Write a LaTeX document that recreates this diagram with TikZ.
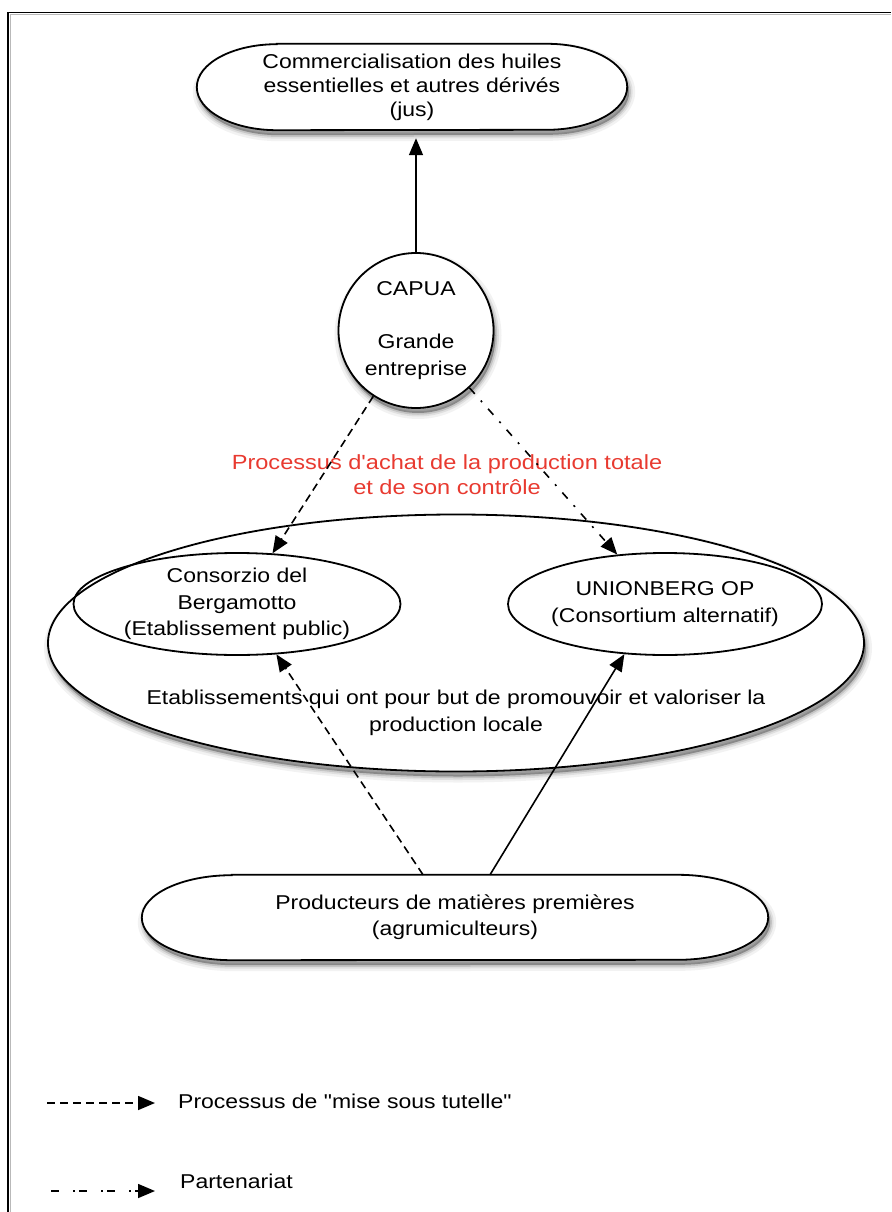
\documentclass[tikz,border=0pt]{standalone}
\usepackage{fontspec}
\setmainfont{Liberation Sans}[FakeStretch=1.15, Ligatures=TeXOff]
\usetikzlibrary{arrows.meta,shapes.geometric,calc}
\pgfdeclarelayer{background}
\pgfsetlayers{background,main}
\definecolor{redtxt}{RGB}{232,58,48}
\begin{document}
\begin{tikzpicture}[x=1pt,y=1pt,
  txt/.style={font=\fontsize{20}{24}\selectfont, align=center, inner sep=0pt},
  ln/.style={line width=1.6pt, draw=black},
  arr/.style={ln, -{Triangle[length=17pt,width=14pt]}},
  dsh/.style={dash pattern=on 8pt off 5pt},
  dshdot/.style={dash pattern=on 8pt off 9pt on 2pt off 9pt},
  legdot/.style={dash pattern=on 8pt off 14pt on 2pt off 4pt},
  shad/.style={
    preaction={draw=black, draw opacity=0.05, line width=12pt, transform canvas={shift={(2pt,-5pt)}}},
    preaction={draw=black, draw opacity=0.08, line width=7pt, transform canvas={shift={(2pt,-5pt)}}},
    preaction={draw=black, draw opacity=0.12, line width=3.5pt, fill=black, fill opacity=0.3, transform canvas={shift={(2pt,-5pt)}}}},
  outline/.style={draw=black, line width=1.8pt},
  pill/.style={outline, fill=white},
  smallell/.style={ellipse, outline, align=center, inner sep=0pt, minimum width=327pt, minimum height=102pt, font=\fontsize{20}{26.5}\selectfont}
]
\useasboundingbox (0,0) rectangle (891,-1212);
% frame
\draw[gray!55, line width=0.9pt] (10.2,-1212) -- (10.2,-14.7) -- (891,-14.7);
\draw[line width=1.6pt] (8,-1212) -- (8,-12.5) -- (891,-12.5);

% big ellipse
\node[ellipse, outline, fill=white, shad, minimum width=816pt, minimum height=257pt, inner sep=0pt] (etab) at (456,-643) {};
\node[txt, font=\fontsize{20}{27}\selectfont] (etabtext) at (456,-713) {Etablissements qui ont pour but de promouvoir et valoriser la\\production locale};

% small ellipses
\node[smallell] (consorzio) at (237,-604) {Consorzio del\\Bergamotto\\(Etablissement public)};
\node[smallell, minimum width=314pt, inner xsep=-4pt] (unionberg) at (665,-604) {UNIONBERG OP\\(Consortium alternatif)};

% top pill
\node[txt, minimum width=430pt, minimum height=86pt] (comm) at (412,-87) {Commercialisation des huiles\\essentielles et autres dérivés\\(jus)};
% producers pill
\node[txt, font=\fontsize{20}{26}\selectfont, minimum width=626pt, minimum height=85pt] (prod) at (455,-917.5) {Producteurs de matières premières\\(agrumiculteurs)};
\begin{pgfonlayer}{background}
\path[pill, shad] ([xshift=80pt]comm.north west) -- ([xshift=-80pt]comm.north east)
  arc[start angle=90, end angle=-90, x radius=80, y radius=43]
  -- ([xshift=80pt]comm.south west)
  arc[start angle=270, end angle=90, x radius=80, y radius=43] -- cycle;
\path[pill, shad] ([xshift=90pt]prod.north west) -- ([xshift=-90pt]prod.north east)
  arc[start angle=90, end angle=-90, x radius=90, y radius=42.5]
  -- ([xshift=90pt]prod.south west)
  arc[start angle=270, end angle=90, x radius=90, y radius=42.5] -- cycle;
\end{pgfonlayer}

% CAPUA
\node[circle, outline, fill=white, shad, minimum size=155pt, inner sep=0pt, align=center, font=\fontsize{20}{26.5}\selectfont] (capua) at (416,-330.5) {CAPUA\\[26.5pt]Grande\\entreprise};

% red label
\node[txt, text=redtxt, font=\fontsize{20.5}{25}\selectfont] (redlbl) at (447,-475) {Processus d'achat de la production totale\\et de son contrôle};

% connectors
\draw[arr, shorten >=8pt] (capua.north) -- (capua.north |- comm.south);
\draw[arr, dsh] (capua.237) -- (consorzio.55);
\draw[arr, dshdot] (capua.-47) -- (unionberg.134);
\draw[arr, dsh] ([xshift=-32pt]prod.north) -- (consorzio.-52);
\draw[arr] ([xshift=35pt]prod.north) -- (unionberg.231);

% legend
\coordinate (l1s) at (47,-1103);
\coordinate (l1e) at (155,-1103);
\draw[arr, dsh] (l1s) -- (l1e);
\node[txt, anchor=base west] (l1t) at (178,-1108) {Processus de "mise sous tutelle"};
\coordinate (l2s) at (51,-1191);
\coordinate (l2e) at (155,-1191);
\draw[arr, legdot] (l2s) -- (l2e);
\node[txt, anchor=base west] (l2t) at (180,-1188) {Partenariat};
\end{tikzpicture}
\end{document}
